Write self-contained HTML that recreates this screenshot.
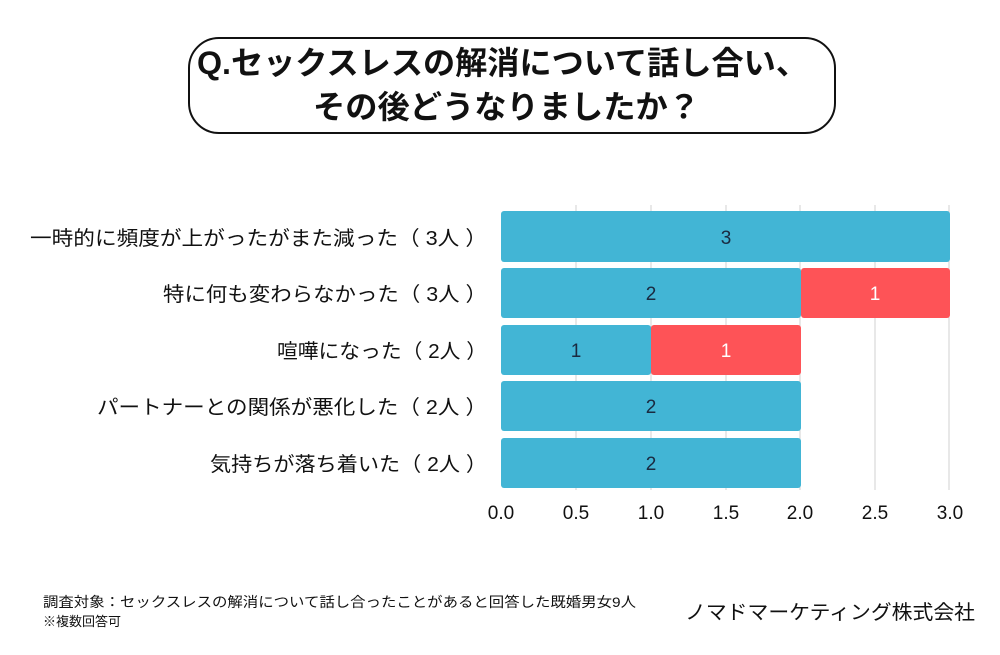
<!DOCTYPE html>
<html><head><meta charset="utf-8"><style>
body{margin:0;background:#fff;}
svg text{font-family:"Liberation Sans","Noto Sans CJK JP",sans-serif;}
</style></head><body>
<svg width="1000" height="650" xmlns="http://www.w3.org/2000/svg">
<rect width="1000" height="650" fill="#fff"/>
<rect x="189" y="38" width="646" height="95" rx="30" fill="#fff" stroke="#111" stroke-width="2"/>
<text x="197" y="74" font-size="32" font-weight="bold" fill="#111" textLength="611" lengthAdjust="spacingAndGlyphs">Q.セックスレスの解消について話し合い、</text>
<text x="313" y="118" font-size="32" font-weight="bold" fill="#111" textLength="387" lengthAdjust="spacingAndGlyphs">その後どうなりましたか？</text>
<g stroke="#d0d0d0" stroke-width="1">
<line x1="576" y1="205" x2="576" y2="490"/><line x1="651" y1="205" x2="651" y2="490"/>
<line x1="726" y1="205" x2="726" y2="490"/><line x1="800" y1="205" x2="800" y2="490"/>
<line x1="875" y1="205" x2="875" y2="490"/><line x1="949" y1="205" x2="949" y2="490"/>
</g>
<g fill="#42b5d5">
<rect x="501" y="211" width="449" height="51" rx="3"/>
<rect x="501" y="268" width="300" height="50" rx="3"/>
<rect x="501" y="325" width="150" height="50" rx="3"/>
<rect x="501" y="381" width="300" height="50" rx="3"/>
<rect x="501" y="438" width="300" height="50" rx="3"/>
</g>
<g fill="#fe5357">
<rect x="801" y="268" width="149" height="50" rx="3"/>
<rect x="651" y="325" width="150" height="50" rx="3"/>
</g>
<g font-size="19" text-anchor="middle" fill="#1a2a40">
<text x="726" y="244">3</text>
<text x="651" y="300">2</text>
<text x="576" y="357">1</text>
<text x="651" y="413">2</text>
<text x="651" y="470">2</text>
</g>
<g font-size="19" text-anchor="middle" fill="#fff">
<text x="875" y="300">1</text>
<text x="726" y="357">1</text>
</g>
<g font-size="20" fill="#111" lengthAdjust="spacingAndGlyphs">
<text x="30" y="245" textLength="457" lengthAdjust="spacingAndGlyphs">一時的に頻度が上がったがまた減った（ 3人 ）</text>
<text x="163" y="301" textLength="324" lengthAdjust="spacingAndGlyphs">特に何も変わらなかった（ 3人 ）</text>
<text x="277" y="358" textLength="210" lengthAdjust="spacingAndGlyphs">喧嘩になった（ 2人 ）</text>
<text x="97" y="414" textLength="390" lengthAdjust="spacingAndGlyphs">パートナーとの関係が悪化した（ 2人 ）</text>
<text x="210" y="471" textLength="277" lengthAdjust="spacingAndGlyphs">気持ちが落ち着いた（ 2人 ）</text>
</g>
<g font-size="19" text-anchor="middle" fill="#111">
<text x="501" y="519">0.0</text><text x="576" y="519">0.5</text><text x="651" y="519">1.0</text>
<text x="726" y="519">1.5</text><text x="800" y="519">2.0</text><text x="875" y="519">2.5</text>
<text x="950" y="519">3.0</text>
</g>
<text x="43" y="607" font-size="14" fill="#111" textLength="593" lengthAdjust="spacingAndGlyphs">調査対象：セックスレスの解消について話し合ったことがあると回答した既婚男女9人</text>
<text x="43" y="626" font-size="13" fill="#111">※複数回答可</text>
<text x="685" y="619" font-size="20" fill="#111" textLength="290" lengthAdjust="spacingAndGlyphs">ノマドマーケティング株式会社</text>
</svg>
</body></html>
